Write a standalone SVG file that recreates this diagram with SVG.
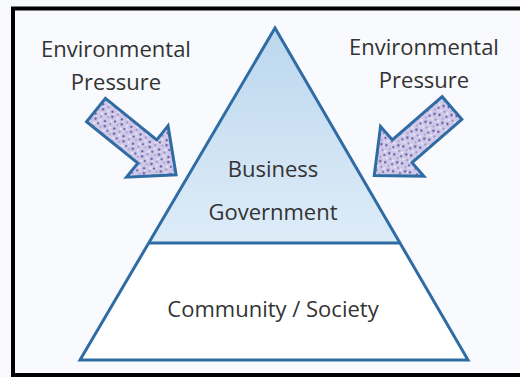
<svg xmlns="http://www.w3.org/2000/svg" width="520" height="377" viewBox="0 0 520 377">
<defs>
<style>
.lbl{font-family:"Open Sans","Noto Sans","Liberation Sans",sans-serif;font-size:22px;fill:#333333;text-anchor:middle}
.edge{stroke:#2f6ca3;stroke-width:3;stroke-linejoin:miter;fill:none}
.arrow{fill:url(#speckle);stroke:#2f6ca3;stroke-width:3;stroke-linejoin:miter}
</style>
<linearGradient id="topfill" x1="0" y1="0" x2="0" y2="1">
<stop offset="0" stop-color="#bcd7ee"/>
<stop offset="1" stop-color="#deecf8"/>
</linearGradient>
<pattern id="speckle" width="12" height="12" patternUnits="userSpaceOnUse">
<rect width="12" height="12" fill="#cfc9e8"/>
<circle cx="2" cy="3" r="1.3" fill="#6e60a8"/>
<circle cx="8" cy="2" r="1" fill="#9184c4"/>
<circle cx="5" cy="7" r="1.4" fill="#7567ae"/>
<circle cx="10" cy="9" r="1.1" fill="#5f5299"/>
<circle cx="2" cy="10" r="0.9" fill="#a296cf"/>
<circle cx="10" cy="5" r="0.9" fill="#f2f0fa"/>
<circle cx="4" cy="4.5" r="0.9" fill="#ecE8f8"/>
<circle cx="7" cy="11" r="1" fill="#f4f2fb"/>
<circle cx="0.5" cy="7" r="0.8" fill="#e8e4f6"/>
</pattern>
</defs>
<rect x="0" y="0" width="520" height="377" fill="#f7f9fc"/>
<rect x="13" y="8.5" width="520" height="366.5" fill="#f8fafd" stroke="#000000" stroke-width="4"/>
<g id="top-tier">
<polygon points="275,28 148.7,243 400,243" fill="url(#topfill)"/>
<text class="lbl" x="273" y="177">Business</text>
<text class="lbl" x="273" y="220">Government</text>
</g>
<g id="bottom-tier">
<polygon points="148.7,243 400,243 468,360 80,360" fill="#ffffff"/>
<text class="lbl" x="273" y="317">Community / Society</text>
</g>
<g id="connectors">
<polygon class="edge" points="275,28 468,360 80,360"/>
<line class="edge" x1="148.7" y1="243" x2="400" y2="243"/>
</g>
<g id="pressure-left">
<text class="lbl" x="116" y="57">Environmental</text>
<text class="lbl" x="116" y="90">Pressure</text>
<polygon class="arrow" transform="translate(96,110) rotate(39)" points="0,-15 66,-15 66,-33 103,0 66,33 66,15 0,15"/>
</g>
<g id="pressure-right">
<text class="lbl" x="424" y="55">Environmental</text>
<text class="lbl" x="424" y="88">Pressure</text>
<polygon class="arrow" transform="translate(452,108) rotate(139)" points="0,-15 66,-15 66,-33 103,0 66,33 66,15 0,15"/>
</g>
</svg>
